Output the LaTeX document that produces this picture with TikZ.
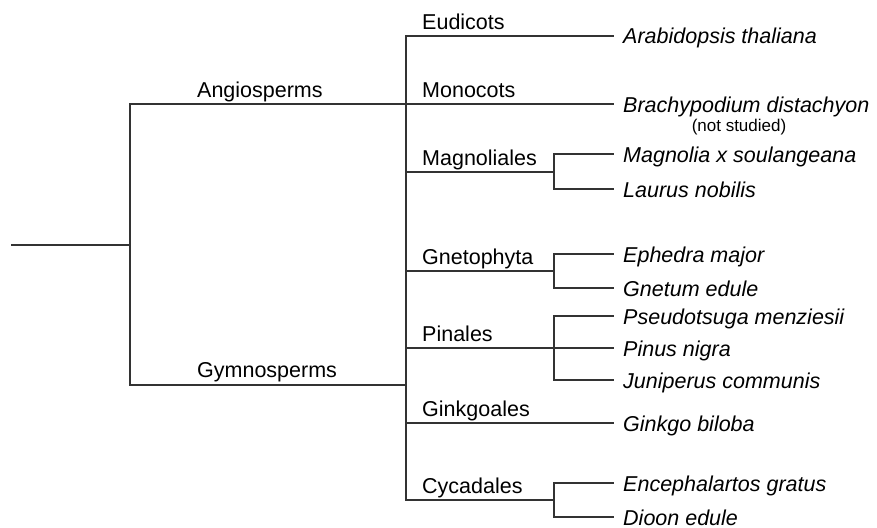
\documentclass[tikz,border=0pt]{standalone}
\usepackage{fontspec}
\setmainfont{Liberation Sans}
\begin{document}
\begin{tikzpicture}[x=1pt,y=-1pt,
  branch/.style={draw=black!80, line width=1.4pt, line cap=rect},
  cladelabel/.style={anchor=base west, inner sep=0pt, font=\fontsize{21.5}{24}\selectfont},
  leaflabel/.style={anchor=base west, inner sep=0pt, font=\fontsize{21.5}{24}\selectfont\itshape},
  note/.style={anchor=base, inner sep=0pt, font=\fontsize{17}{20}\selectfont}]
\useasboundingbox (0,0) rectangle (877,527);
% tree points
\coordinate (root0) at (12,245);
\coordinate (root) at (130,245);
\coordinate (angA) at (130,104);
\coordinate (gymA) at (130,385);
\coordinate (ang) at (406,104);
\coordinate (gym) at (406,385);
% angiosperm clades
\coordinate (eudT) at (406,36);
\coordinate (magT) at (406,172);
\coordinate (magN) at (554,172);
\coordinate (magNt) at (554,154);
\coordinate (magNb) at (554,189);
% gymnosperm clades
\coordinate (gneT) at (406,271);
\coordinate (gneN) at (554,271);
\coordinate (gneNt) at (554,254);
\coordinate (gneNb) at (554,288);
\coordinate (pinT) at (406,348);
\coordinate (pinN) at (554,348);
\coordinate (pinNt) at (554,316);
\coordinate (pinNb) at (554,380);
\coordinate (ginT) at (406,423);
\coordinate (cycT) at (406,500);
\coordinate (cycN) at (554,500);
\coordinate (cycNt) at (554,483);
\coordinate (cycNb) at (554,517);
% leaf ends
\coordinate (l1) at (613,36);
\coordinate (l2) at (613,104);
\coordinate (l3) at (613,154);
\coordinate (l4) at (613,189);
\coordinate (l5) at (613,254);
\coordinate (l6) at (613,288);
\coordinate (l7) at (613,316);
\coordinate (l8) at (613,348);
\coordinate (l9) at (613,380);
\coordinate (l10) at (613,423);
\coordinate (l11) at (613,483);
\coordinate (l12) at (613,517);
% branches
\draw[branch] (root0) -- (root);
\draw[branch] (ang) -- (angA) -- (gymA) -- (gym);
\draw[branch] (eudT) -- (cycT);
\draw[branch] (eudT) -- (l1);
\draw[branch] (ang) -- (l2);
\draw[branch] (magT) -- (magN);
\draw[branch] (l3) -- (magNt) -- (magNb) -- (l4);
\draw[branch] (gneT) -- (gneN);
\draw[branch] (l5) -- (gneNt) -- (gneNb) -- (l6);
\draw[branch] (pinT) -- (l8);
\draw[branch] (l7) -- (pinNt) -- (pinNb) -- (l9);
\draw[branch] (ginT) -- (l10);
\draw[branch] (cycT) -- (cycN);
\draw[branch] (l11) -- (cycNt) -- (cycNb) -- (l12);
% clade labels
\node[cladelabel] (tAng) at (197,97) {Angiosperms};
\node[cladelabel] (tGym) at (197,377) {Gymnosperms};
\node[cladelabel] (tEud) at (422,30) {Eudicots};
\node[cladelabel] (tMon) at (422,97) {Monocots};
\node[cladelabel] (tMag) at (422,165) {Magnoliales};
\node[cladelabel] (tGne) at (422,264) {Gnetophyta};
\node[cladelabel] (tPin) at (422,341) {Pinales};
\node[cladelabel] (tGin) at (422,416) {Ginkgoales};
\node[cladelabel] (tCyc) at (422,493) {Cycadales};
% leaf labels
\node[leaflabel] (s1) at (623,44) {Arabidopsis thaliana};
\node[leaflabel] (s2) at (623,112) {Brachypodium distachyon};
\node[note] (s2n) at (739,131) {(not studied)};
\node[leaflabel] (s3) at (623,162) {Magnolia x soulangeana};
\node[leaflabel] (s4) at (623,197) {Laurus nobilis};
\node[leaflabel] (s5) at (623,262) {Ephedra major};
\node[leaflabel] (s6) at (623,296) {Gnetum edule};
\node[leaflabel] (s7) at (623,324) {Pseudotsuga menziesii};
\node[leaflabel] (s8) at (623,356) {Pinus nigra};
\node[leaflabel] (s9) at (623,388) {Juniperus communis};
\node[leaflabel] (s10) at (623,431) {Ginkgo biloba};
\node[leaflabel] (s11) at (623,491) {Encephalartos gratus};
\node[leaflabel] (s12) at (623,525) {Dioon edule};
\end{tikzpicture}
\end{document}
